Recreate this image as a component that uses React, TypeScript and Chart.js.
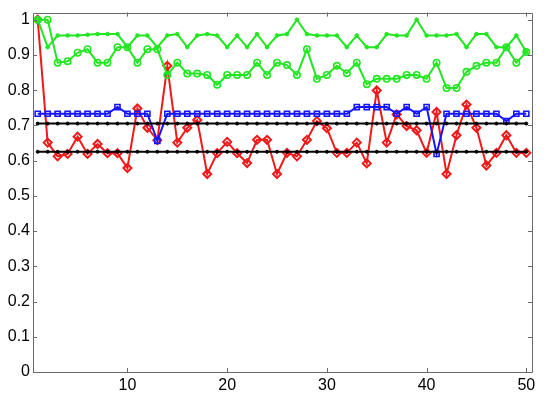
import React, { useEffect, useRef } from "react";
import { Chart, registerables } from "chart.js";

Chart.register(...registerables);

const ITER = [
  1, 2, 3, 4, 5, 6, 7, 8, 9, 10, 11, 12, 13, 14, 15, 16, 17, 18, 19, 20, 21, 22, 23, 24, 25,
  26, 27, 28, 29, 30, 31, 32, 33, 34, 35, 36, 37, 38, 39, 40, 41, 42, 43, 44, 45, 46, 47, 48, 49, 50,
];

const GREEN_DOTS = [
  1.0, 0.922, 0.955, 0.955, 0.955, 0.957, 0.959, 0.959, 0.959, 0.922,
  0.955, 0.955, 0.922, 0.955, 0.959, 0.922, 0.955, 0.959, 0.955, 0.922,
  0.955, 0.922, 0.959, 0.922, 0.955, 0.959, 1.0, 0.959, 0.955, 0.955,
  0.955, 0.922, 0.955, 0.922, 0.922, 0.959, 0.955, 0.955, 1.0, 0.955,
  0.955, 0.955, 0.959, 0.922, 0.959, 0.959, 0.922, 0.922, 0.955, 0.908,
];

const GREEN_CIRCLES = [
  1.0, 1.0, 0.878, 0.882, 0.906, 0.916, 0.878, 0.878, 0.922, 0.922,
  0.878, 0.916, 0.916, 0.843, 0.878, 0.847, 0.847, 0.843, 0.815, 0.843,
  0.843, 0.843, 0.878, 0.843, 0.878, 0.871, 0.843, 0.916, 0.832, 0.843,
  0.869, 0.848, 0.878, 0.817, 0.832, 0.832, 0.832, 0.843, 0.843, 0.832,
  0.878, 0.806, 0.806, 0.852, 0.869, 0.878, 0.878, 0.922, 0.878, 0.908,
];

const RED_DIAMONDS = [
  1.0, 0.651, 0.612, 0.619, 0.668, 0.619, 0.647, 0.621, 0.621, 0.579,
  0.748, 0.693, 0.658, 0.869, 0.651, 0.693, 0.715, 0.562, 0.621, 0.653,
  0.621, 0.593, 0.659, 0.659, 0.562, 0.622, 0.612, 0.659, 0.712, 0.692,
  0.622, 0.622, 0.651, 0.592, 0.799, 0.651, 0.731, 0.698, 0.686, 0.622,
  0.738, 0.562, 0.672, 0.759, 0.693, 0.586, 0.622, 0.672, 0.622, 0.622,
];

const BLUE_SQUARES = [
  0.733, 0.733, 0.733, 0.733, 0.733, 0.733, 0.733, 0.733, 0.752, 0.733,
  0.733, 0.733, 0.656, 0.733, 0.733, 0.733, 0.733, 0.733, 0.733, 0.733,
  0.733, 0.733, 0.733, 0.733, 0.733, 0.733, 0.733, 0.733, 0.733, 0.733,
  0.733, 0.733, 0.752, 0.752, 0.752, 0.752, 0.733, 0.752, 0.733, 0.752,
  0.619, 0.733, 0.733, 0.733, 0.733, 0.733, 0.733, 0.712, 0.733, 0.733,
];

const BLACK_UPPER = [
  0.705, 0.705, 0.705, 0.705, 0.705, 0.705, 0.705, 0.705, 0.705, 0.705,
  0.705, 0.705, 0.705, 0.705, 0.705, 0.705, 0.705, 0.705, 0.705, 0.705,
  0.705, 0.705, 0.705, 0.705, 0.705, 0.705, 0.705, 0.705, 0.705, 0.705,
  0.705, 0.705, 0.705, 0.705, 0.705, 0.705, 0.705, 0.705, 0.705, 0.705,
  0.705, 0.705, 0.705, 0.705, 0.705, 0.705, 0.705, 0.705, 0.705, 0.705,
];

const BLACK_LOWER = [
  0.625, 0.625, 0.625, 0.625, 0.625, 0.625, 0.625, 0.625, 0.625, 0.625,
  0.625, 0.625, 0.625, 0.625, 0.625, 0.625, 0.625, 0.625, 0.625, 0.625,
  0.625, 0.625, 0.625, 0.625, 0.625, 0.625, 0.625, 0.625, 0.625, 0.625,
  0.625, 0.625, 0.625, 0.625, 0.625, 0.625, 0.625, 0.625, 0.625, 0.625,
  0.625, 0.625, 0.625, 0.625, 0.625, 0.625, 0.625, 0.625, 0.625, 0.625,
];

const X_TICKS = [10, 20, 30, 40, 50];
const Y_TICKS = [0, 0.1, 0.2, 0.3, 0.4, 0.5, 0.6, 0.7, 0.8, 0.9, 1];

const AXIS_COLOR = "#6a6a6a";
const FONT = { family: "'Liberation Sans', Arial, Helvetica, sans-serif", size: 16 };

const toPoints = (ys: number[]) => ITER.map((x, i) => ({ x, y: ys[i] }));

const boxPlugin = {
  id: "matlabBox",
  afterDatasetsDraw(chart: any) {
    const { ctx, chartArea } = chart;
    const { left, right, top, bottom } = chartArea;
    const xs = chart.scales.x;
    const ys = chart.scales.y;
    const tick = 4;
    ctx.save();
    ctx.strokeStyle = AXIS_COLOR;
    ctx.lineWidth = 1;
    ctx.beginPath();
    ctx.rect(Math.round(left) + 0.5, Math.round(top) + 0.5, Math.round(right - left), Math.round(bottom - top));
    X_TICKS.forEach((v) => {
      const px = Math.round(xs.getPixelForValue(v)) + 0.5;
      ctx.moveTo(px, bottom);
      ctx.lineTo(px, bottom - tick);
      ctx.moveTo(px, top);
      ctx.lineTo(px, top + tick);
    });
    Y_TICKS.forEach((v) => {
      const py = Math.round(ys.getPixelForValue(v)) + 0.5;
      ctx.moveTo(left, py);
      ctx.lineTo(left + tick, py);
      ctx.moveTo(right, py);
      ctx.lineTo(right - tick, py);
    });
    ctx.stroke();
    ctx.restore();
  },
};

export default function App() {
  const ref = useRef<HTMLCanvasElement | null>(null);

  useEffect(() => {
    document.body.style.margin = "0";
    const canvas = ref.current;
    if (!canvas) return;
    const chart = new Chart(canvas, {
      type: "line",
      data: {
        datasets: [
          {
            data: toPoints(BLACK_UPPER),
            borderColor: "#000000",
            backgroundColor: "#000000",
            borderWidth: 2,
            pointRadius: 1.5,
            pointBorderWidth: 1,
            pointStyle: "circle",
          },
          {
            data: toPoints(BLACK_LOWER),
            borderColor: "#000000",
            backgroundColor: "#000000",
            borderWidth: 2,
            pointRadius: 1.5,
            pointBorderWidth: 1,
            pointStyle: "circle",
          },
          {
            data: toPoints(BLUE_SQUARES),
            borderColor: "#1414ff",
            backgroundColor: "rgba(0,0,0,0)",
            borderWidth: 2,
            pointRadius: 3.6,
            pointBorderWidth: 1.6,
            pointStyle: "rect",
          },
          {
            data: toPoints(GREEN_DOTS),
            borderColor: "#22e622",
            backgroundColor: "#22e622",
            borderWidth: 2,
            pointRadius: 1.8,
            pointBorderWidth: 1,
            pointStyle: "circle",
          },
          {
            data: toPoints(GREEN_CIRCLES),
            borderColor: "#22e622",
            backgroundColor: "rgba(0,0,0,0)",
            borderWidth: 2,
            pointRadius: 3.2,
            pointBorderWidth: 1.6,
            pointStyle: "circle",
          },
          {
            data: toPoints(RED_DIAMONDS),
            borderColor: "#f01818",
            backgroundColor: "rgba(0,0,0,0)",
            borderWidth: 2,
            pointRadius: 4,
            pointBorderWidth: 2,
            pointStyle: "rectRot",
          },
        ],
      },
      options: {
        responsive: false,
        animation: false,
        events: [],
        layout: { padding: { top: 9, right: 18, left: 0, bottom: 0 } },
        plugins: {
          legend: { display: false },
          tooltip: { enabled: false },
        },
        elements: { line: { tension: 0 } },
        scales: {
          x: {
            type: "linear",
            min: 0.53,
            max: 50.57,
            grid: { display: false, drawTicks: false },
            border: { display: false },
            afterBuildTicks: (scale: any) => {
              scale.ticks = X_TICKS.map((v) => ({ value: v }));
            },
            afterFit: (scale: any) => {
              scale.height = 27;
            },
            ticks: {
              color: "#000000",
              font: FONT,
              padding: 4,
              autoSkip: false,
              maxRotation: 0,
              callback: (v: any) => String(v),
            },
          },
          y: {
            type: "linear",
            min: 0,
            max: 1.02,
            grid: { display: false, drawTicks: false },
            border: { display: false },
            afterBuildTicks: (scale: any) => {
              scale.ticks = Y_TICKS.map((v) => ({ value: v }));
            },
            afterFit: (scale: any) => {
              scale.width = 33;
            },
            ticks: {
              color: "#000000",
              font: FONT,
              padding: 3,
              autoSkip: false,
              callback: (v: any) => String(v),
            },
          },
        },
      },
      plugins: [boxPlugin],
    });
    return () => chart.destroy();
  }, []);

  return (
    <div style={{ width: 550, height: 399, background: "#ffffff" }}>
      <canvas ref={ref} width={550} height={399} style={{ display: "block" }} />
    </div>
  );
}
